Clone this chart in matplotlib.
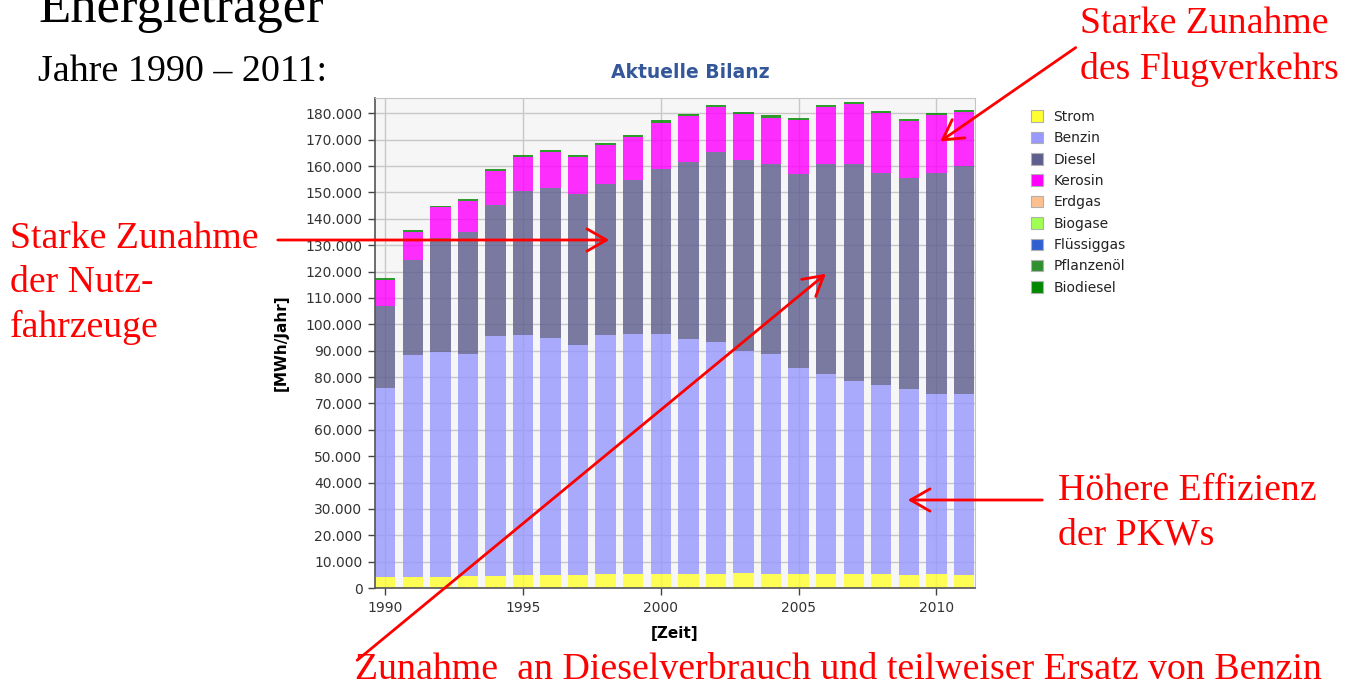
import numpy as np
import matplotlib
matplotlib.use('Agg')
import matplotlib.pyplot as plt
from matplotlib.patches import Patch, FancyArrowPatch
from matplotlib.ticker import FuncFormatter

W, H = 1357, 687

# values in 1000 MWh/Jahr
years = list(range(1990, 2012))
strom = [4.3, 4.3, 4.3, 4.4, 4.7, 4.8, 4.9, 5.1, 5.2, 5.3, 5.4,
         5.3, 5.3, 5.8, 5.3, 5.3, 5.4, 5.3, 5.3, 4.9, 5.2, 5.1]
benzin = [71.4, 84.2, 85.0, 84.5, 90.8, 91.1, 90.0, 87.2, 90.9, 91.2, 91.0,
          89.1, 88.0, 84.0, 83.4, 78.2, 75.7, 73.1, 71.6, 70.5, 68.3, 68.3]
diesel = [31.3, 35.8, 43.5, 45.9, 49.9, 54.5, 56.6, 57.0, 57.0, 58.1, 62.6,
          67.1, 72.0, 72.4, 72.0, 73.4, 79.6, 82.5, 80.5, 79.9, 84.0, 86.5]
kerosin = [9.8, 10.7, 11.5, 11.9, 12.7, 13.0, 13.8, 14.1, 14.9, 16.4, 17.5,
           17.3, 16.9, 17.5, 17.7, 20.5, 21.8, 22.6, 22.7, 21.9, 22.0, 20.7]
erdgas = [0.0] * 22
biogase = [0.0] * 22
fluessiggas = [0.0] * 22
pflanzenoel = [0.0] * 22
biodiesel = [0.6, 0.6, 0.6, 0.7, 0.7, 0.7, 0.7, 0.7, 0.7, 0.7, 0.8,
             0.8, 0.8, 0.8, 0.8, 0.8, 0.8, 0.8, 0.8, 0.8, 0.8, 0.8]

names = ['Strom', 'Benzin', 'Diesel', 'Kerosin', 'Erdgas', 'Biogase',
         'Flüssiggas', 'Pflanzenöl', 'Biodiesel']
series = [strom, benzin, diesel, kerosin, erdgas, biogase,
          fluessiggas, pflanzenoel, biodiesel]
colors = ['#ffff33', '#9999ff', '#5f5f8f', '#ff00ff', '#ffc08f', '#a0ff50',
          '#3060d0', '#309030', '#008800']

fig = plt.figure(figsize=(W / 100, H / 100), dpi=100)
ax = fig.add_axes([375 / W, 1 - 588 / H, 600 / W, 490 / H])
ax.set_facecolor('#f6f6f6')

bottom = np.zeros(len(years))
for vals, c in zip(series, colors):
    v = np.array(vals) * 1000
    ax.bar(years, v, 0.74, bottom=bottom, color=c, alpha=0.82,
           linewidth=0, zorder=2)
    bottom += v

ax.set_xlim(1990 - 0.37, 2011 + 0.4)
ax.set_ylim(0, 185800)
ax.set_yticks(np.arange(0, 180001, 10000))
ax.set_xticks([1990, 1995, 2000, 2005, 2010])
ax.yaxis.set_major_formatter(FuncFormatter(
    lambda v, p: f'{int(v):,}'.replace(',', '.')))
ax.grid(True, color='#c8c8c8', linewidth=1, zorder=0)
ax.set_axisbelow(True)
ax.tick_params(labelsize=10, colors='#444444', labelcolor='#333333',
               length=5, width=1, pad=4)
for s in ['top', 'right']:
    ax.spines[s].set_color('#c4c4c4')
for s in ['left', 'bottom']:
    ax.spines[s].set_color('#555555')
    ax.spines[s].set_linewidth(1.2)

ax.set_ylabel('[MWh/Jahr]', fontsize=11, fontweight='bold', labelpad=12)
ax.set_xlabel('[Zeit]', fontsize=11, fontweight='bold', labelpad=8)
fig.text(690 / W, 1 - 73 / H, 'Aktuelle Bilanz', fontsize=13.5,
         fontweight='bold', color='#34579a', ha='center', va='center')

handles = [Patch(facecolor=c, edgecolor='#b0b0b0', linewidth=0.8) for c in colors]
fig.legend(handles, names, loc='upper left',
           bbox_to_anchor=(1024 / W, 1 - 103 / H), frameon=False,
           fontsize=10, handlelength=0.9, handleheight=0.9,
           handletextpad=0.7, labelspacing=0.53, borderpad=0,
           labelcolor='#222222')

# slide text and red annotations
serif = 'Liberation Serif'
fig.text(38 / W, 1 - 22 / H, 'Energieträger', fontsize=38, family=serif,
         va='baseline', ha='left')
fig.text(38 / W, 1 - 72 / H, 'Jahre 1990 – 2011:', fontsize=27.4, family=serif,
         va='center', ha='left')

red = '#ff0000'
fig.text(1080 / W, 1 - 47 / H, 'Starke Zunahme\ndes Flugverkehrs',
         fontsize=27.2, family=serif, color=red, va='center', ha='left',
         linespacing=1.4)
fig.text(10 / W, 1 - 283 / H, 'Starke Zunahme\nder Nutz-\nfahrzeuge',
         fontsize=27.2, family=serif, color=red, va='center', ha='left',
         linespacing=1.36)
fig.text(1058 / W, 1 - 513 / H, 'Höhere Effizienz\nder PKWs',
         fontsize=27.2, family=serif, color=red, va='center', ha='left',
         linespacing=1.38)
fig.text(355 / W, 1 - 670 / H,
         'Zunahme  an Dieselverbrauch und teilweiser Ersatz von Benzin',
         fontsize=27.3, family=serif, color=red, va='center', ha='left')

arrows = [((275, 240), (612, 240)),
          ((355, 662), (828, 272)),
          ((1078, 46), (938, 143)),
          ((1045, 500), (905, 500))]
for (x0, y0), (x1, y1) in arrows:
    fig.add_artist(FancyArrowPatch(
        (x0 / W, 1 - y0 / H), (x1 / W, 1 - y1 / H),
        transform=fig.transFigure, arrowstyle='->,head_length=0.7,head_width=0.4',
        mutation_scale=20, color=red, linewidth=2))

fig.savefig('out.png', dpi=100)
